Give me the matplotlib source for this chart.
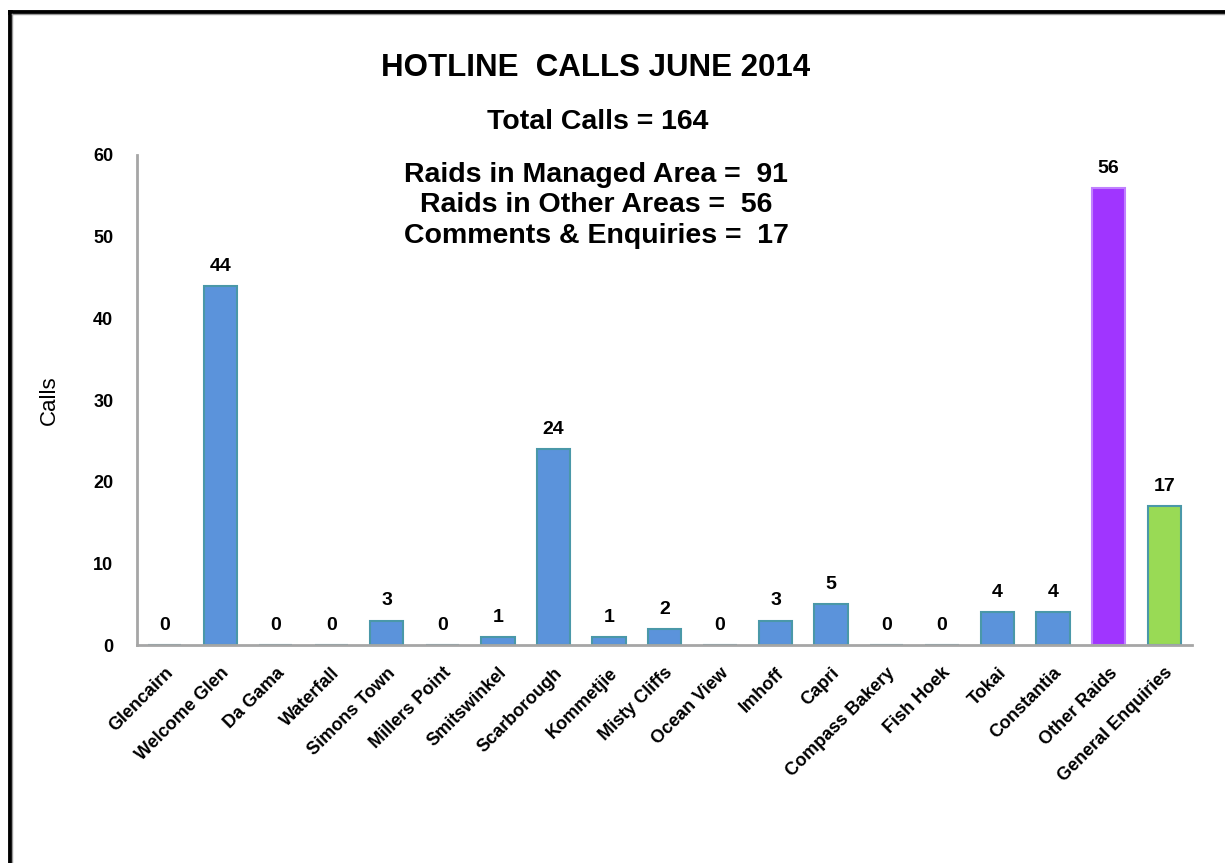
import numpy as np
import matplotlib.pyplot as plt
from matplotlib.lines import Line2D

plt.rcParams['font.family'] = ['Liberation Sans', 'DejaVu Sans']

areas = ['Glencairn', 'Welcome Glen', 'Da Gama', 'Waterfall', 'Simons Town',
         'Millers Point', 'Smitswinkel', 'Scarborough', 'Kommetjie', 'Misty Cliffs',
         'Ocean View', 'Imhoff', 'Capri', 'Compass Bakery', 'Fish Hoek',
         'Tokai', 'Constantia', 'Other Raids', 'General Enquiries']
calls = [0, 44, 0, 0, 3, 0, 1, 24, 1, 2, 0, 3, 5, 0, 0, 4, 4, 56, 17]

blue = '#5B93DB'
bar_colors = [blue] * 17 + ['#A035FF', '#99DA55']
edge_colors = ['#4A98A8'] * 17 + ['#C080FF', '#4A98A8']

summary_lines = ['Raids in Managed Area =  91',
                 'Raids in Other Areas =  56',
                 'Comments & Enquiries =  17']

fig = plt.figure(figsize=(12.25, 8.63), dpi=100)
ax = fig.add_axes([0.1118, 0.2526, 0.8612, 0.5678])

x = np.arange(len(areas))
ax.bar(x, calls, width=0.6, color=bar_colors, edgecolor=edge_colors, linewidth=1.5, zorder=2)

for xi, v in zip(x, calls):
    ax.annotate(str(v), (xi, v), xytext=(0, 8), textcoords='offset points',
                ha='center', va='bottom', fontsize=14, fontweight='bold')

ax.set_xlim(-0.5, 18.5)
ax.set_ylim(0, 60)
ax.set_yticks(range(0, 61, 10))
ax.set_xticks(x)
ax.set_xticklabels(areas, rotation=45, ha='right', rotation_mode='anchor',
                   fontsize=13, fontweight='bold')
for lbl in ax.get_yticklabels():
    lbl.set_fontweight('bold')
    lbl.set_fontsize(13)
ax.tick_params(axis='both', length=0)
ax.tick_params(axis='y', pad=17)
ax.tick_params(axis='x', pad=14)

for s in ['top', 'right']:
    ax.spines[s].set_visible(False)
for s in ['left', 'bottom']:
    ax.spines[s].set_color('#A6A6A6')
    ax.spines[s].set_linewidth(2)

ax.set_ylabel('Calls', fontsize=16, labelpad=24)

fig.text(0.4865, 1 - 68 / 863, 'HOTLINE  CALLS JUNE 2014', ha='center', va='center',
         fontsize=22.5, fontweight='bold')
fig.text(0.4878, 1 - 122 / 863, 'Total Calls = 164', ha='center', va='center',
         fontsize=20.5, fontweight='bold')
for i, line in enumerate(summary_lines):
    fig.text(0.4865, 1 - (175 + 30.5 * i) / 863, line, ha='center', va='center',
             fontsize=20.5, fontweight='bold')

# outer frame (left and top edges)
fig.add_artist(Line2D([9.5 / 1225, 9.5 / 1225], [0, 1 - 12 / 863], color='black', lw=3.5,
                      transform=fig.transFigure, solid_capstyle='projecting'))
fig.add_artist(Line2D([9.5 / 1225, 1], [1 - 12 / 863, 1 - 12 / 863], color='black', lw=3.5,
                      transform=fig.transFigure, solid_capstyle='projecting'))
fig.add_artist(Line2D([12.5 / 1225, 12.5 / 1225], [0, 1 - 14.5 / 863], color='#999999', lw=1,
                      transform=fig.transFigure))
fig.add_artist(Line2D([12.5 / 1225, 1], [1 - 14.5 / 863, 1 - 14.5 / 863], color='#999999', lw=1,
                      transform=fig.transFigure))

fig.savefig('out.png', dpi=100)
